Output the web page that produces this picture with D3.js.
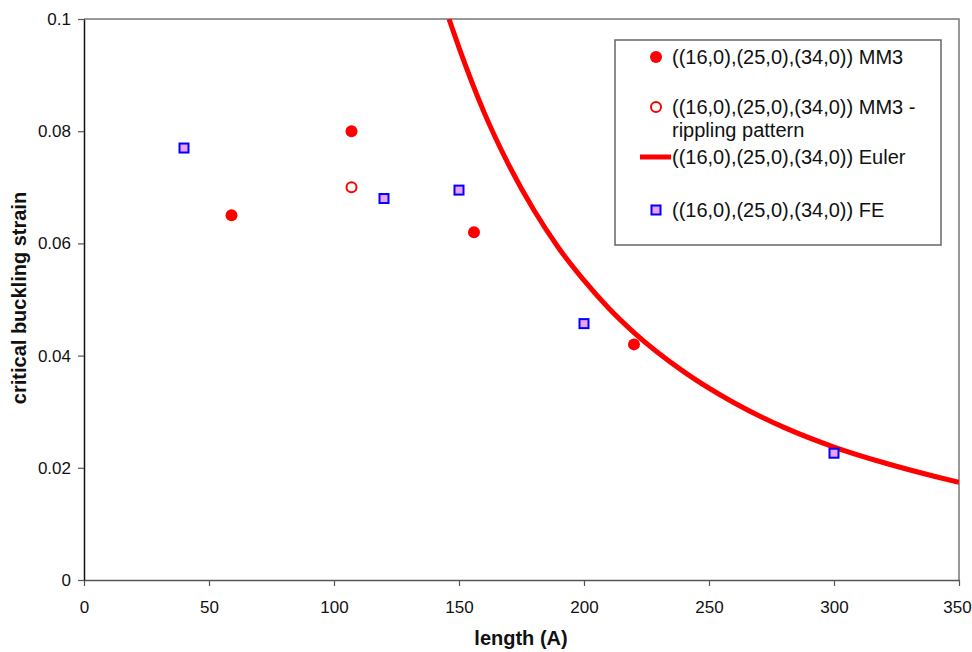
<!DOCTYPE html>
<html>
<head>
<meta charset="utf-8">
<script src="https://cdn.jsdelivr.net/npm/d3@7"></script>
<style>
  body { margin: 0; background: #fff; }
  svg { display: block; font-family: Arial, "Liberation Sans", Helvetica, sans-serif; }
</style>
</head>
<body>
<svg id="chart" width="972" height="652"></svg>
<script>
// ---- data ----
const mm3Length = [59, 107, 156, 220];
const mm3Strain = [0.065, 0.080, 0.062, 0.042];
const rippleLength = [107];
const rippleStrain = [0.070];
const feLength = [40, 120, 150, 200, 300];
const feStrain = [0.077, 0.068, 0.0695, 0.0457, 0.0226];
const eulerLength = [146, 150, 160, 170, 180, 190, 200, 210, 220, 240, 260, 280, 300, 320, 340, 350];
const eulerStrain = [0.1000, 0.0949, 0.0834, 0.0739, 0.0659, 0.0591, 0.0534, 0.0484, 0.0441, 0.0371, 0.0316, 0.0272, 0.0237, 0.0209, 0.0185, 0.0174];
const xTicks = [0, 50, 100, 150, 200, 250, 300, 350];
const yTicks = [0, 0.02, 0.04, 0.06, 0.08, 0.1];
const yTickLabels = ["0", "0.02", "0.04", "0.06", "0.08", "0.1"];
const legendLabels = [
  ["((16,0),(25,0),(34,0)) MM3"],
  ["((16,0),(25,0),(34,0)) MM3 -", "rippling pattern"],
  ["((16,0),(25,0),(34,0)) Euler"],
  ["((16,0),(25,0),(34,0)) FE"]
];
const xTitle = "length (A)";
const yTitle = "critical buckling strain";

// ---- layout ----
const svg = d3.select("#chart");
const m = { left: 84, right: 959, top: 19, bottom: 580 };
const x = d3.scaleLinear().domain([0, 350]).range([m.left, m.right]);
const y = d3.scaleLinear().domain([0, 0.1]).range([m.bottom, m.top]);

const red = "#ff0000";
const tickFont = 17;

// plot border (top & right)
svg.append("path")
  .attr("d", `M${m.left},${m.top}H${m.right}V${m.bottom}`)
  .attr("fill", "none").attr("stroke", "#777").attr("stroke-width", 1.5);

// axes
const xAxis = d3.axisBottom(x).tickValues(xTicks).tickSize(6).tickPadding(15).tickSizeOuter(0);
const gx = svg.append("g").attr("transform", `translate(0,${m.bottom})`).call(xAxis);
gx.select(".domain").attr("stroke", "#555").attr("stroke-width", 1.5);
gx.selectAll(".tick line").attr("stroke", "#555").attr("stroke-width", 1.2);
gx.selectAll("text").attr("font-size", tickFont).attr("fill", "#111").attr("font-family", "Arial, 'Liberation Sans', sans-serif");
// keep the last label inside the page
gx.selectAll("text").filter(d => d === 350).attr("x", -2);

const yAxis = d3.axisLeft(y).tickValues(yTicks).tickFormat((d, i) => yTickLabels[i]).tickSize(6).tickPadding(7).tickSizeOuter(0);
const gy = svg.append("g").attr("transform", `translate(${m.left},0)`).call(yAxis);
gy.select(".domain").attr("stroke", "#111").attr("stroke-width", 1.5);
gy.selectAll(".tick line").attr("stroke", "#555").attr("stroke-width", 1.2);
gy.selectAll("text").attr("font-size", tickFont).attr("fill", "#111").attr("font-family", "Arial, 'Liberation Sans', sans-serif");

// titles
svg.append("text").attr("x", 521).attr("y", 645).attr("text-anchor", "middle")
  .attr("font-size", 20).attr("font-weight", "bold").attr("fill", "#111").text(xTitle);
svg.append("text").attr("transform", "translate(26,298) rotate(-90)").attr("text-anchor", "middle")
  .attr("font-size", 20).attr("font-weight", "bold").attr("fill", "#111").text(yTitle);

// clip
svg.append("clipPath").attr("id", "clip").append("rect")
  .attr("x", m.left).attr("y", m.top).attr("width", m.right - m.left).attr("height", m.bottom - m.top);

// Euler curve
const euler = eulerLength.map((d, i) => [d, eulerStrain[i]]);
svg.append("path").datum(euler)
  .attr("clip-path", "url(#clip)")
  .attr("d", d3.line().x(d => x(d[0])).y(d => y(d[1])).curve(d3.curveMonotoneX))
  .attr("fill", "none").attr("stroke", red).attr("stroke-width", 5);

// MM3 filled circles
svg.append("g").selectAll("circle").data(mm3Length.map((d, i) => [d, mm3Strain[i]])).join("circle")
  .attr("cx", d => x(d[0])).attr("cy", d => y(d[1])).attr("r", 6).attr("fill", red);

// MM3 rippling open circles
svg.append("g").selectAll("circle").data(rippleLength.map((d, i) => [d, rippleStrain[i]])).join("circle")
  .attr("cx", d => x(d[0])).attr("cy", d => y(d[1])).attr("r", 5)
  .attr("fill", "#fff").attr("stroke", red).attr("stroke-width", 2);

// FE squares
const sq = 9;
svg.append("g").selectAll("rect").data(feLength.map((d, i) => [d, feStrain[i]])).join("rect")
  .attr("x", d => x(d[0]) - sq / 2).attr("y", d => y(d[1]) - sq / 2)
  .attr("width", sq).attr("height", sq)
  .attr("fill", "#f0a0f0").attr("stroke", "#0000ff").attr("stroke-width", 2);

// legend
const lg = svg.append("g");
lg.append("rect").attr("x", 615).attr("y", 40).attr("width", 326).attr("height", 205)
  .attr("fill", "#fff").attr("stroke", "#666").attr("stroke-width", 1.5);
const tx = 672;
const rowY = [57, 107, 157, 210];
lg.append("circle").attr("cx", 656).attr("cy", rowY[0]).attr("r", 6).attr("fill", red);
lg.append("circle").attr("cx", 656).attr("cy", rowY[1]).attr("r", 5).attr("fill", "#fff").attr("stroke", red).attr("stroke-width", 2);
lg.append("line").attr("x1", 640).attr("x2", 671).attr("y1", rowY[2]).attr("y2", rowY[2]).attr("stroke", red).attr("stroke-width", 5);
lg.append("rect").attr("x", 656 - sq / 2).attr("y", rowY[3] - sq / 2).attr("width", sq).attr("height", sq)
  .attr("fill", "#f0a0f0").attr("stroke", "#0000ff").attr("stroke-width", 2);
legendLabels.forEach((lines, i) => {
  lines.forEach((t, j) => {
    lg.append("text").attr("x", tx).attr("y", rowY[i] + j * 23).attr("dy", "0.35em")
      .attr("font-size", 20).attr("fill", "#111").text(t);
  });
});
</script>
</body>
</html>
